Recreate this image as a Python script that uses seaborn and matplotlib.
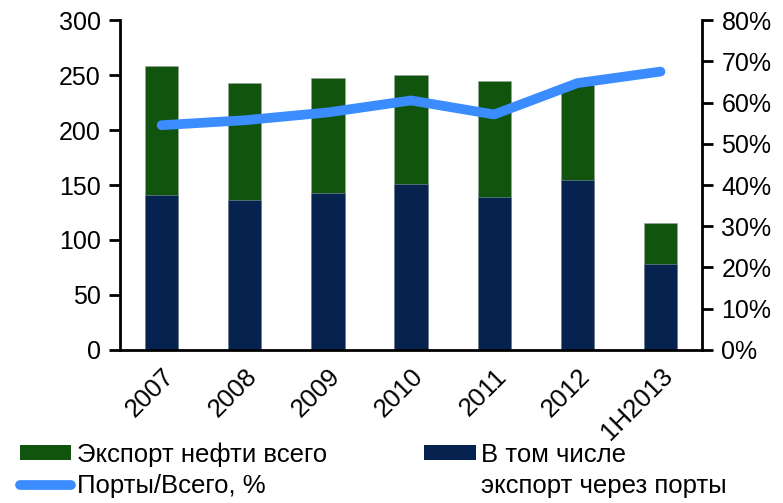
import numpy as np
import matplotlib
matplotlib.use("Agg")
import matplotlib.pyplot as plt
import seaborn as sns
from matplotlib.patches import Patch
from matplotlib.lines import Line2D
from matplotlib.ticker import FuncFormatter, MultipleLocator

# data
years = ["2007", "2008", "2009", "2010", "2011", "2012", "1H2013"]
export_total = [258, 243, 247, 250, 244.5, 241, 115.5]
export_ports = [141, 136, 143, 151, 139.5, 154.5, 78]
ports_share = [54.5, 55.7, 57.6, 60.5, 57.1, 64.7, 67.5]

green = "#11540E"
navy = "#062350"
blue = "#3A8CFF"

sns.set_style("white")
plt.rcParams["font.family"] = ["Liberation Sans", "DejaVu Sans"]
plt.rcParams["font.size"] = 18
plt.rcParams["text.color"] = "black"
plt.rcParams["xtick.color"] = "black"
plt.rcParams["ytick.color"] = "black"

fig = plt.figure(figsize=(7.83, 5.03), dpi=100)
ax = fig.add_axes([0.1533, 0.3042, 0.8966 - 0.1533, 0.9602 - 0.3042])

# total and ports bars drawn over each other (not stacked)
sns.barplot(x=years, y=export_total, color=green, saturation=1, width=0.4,
            edgecolor="#9aa59a", linewidth=0.4, ax=ax)
sns.barplot(x=years, y=export_ports, color=navy, saturation=1, width=0.4,
            edgecolor="#8a93a8", linewidth=0.4, ax=ax)

ax.set_xlim(-0.5, len(years) - 0.5)
ax.set_ylim(0, 300)
ax.yaxis.set_major_locator(MultipleLocator(50))
ax.set_xticks(np.arange(len(years)))
ax.set_xticklabels(years, rotation=45, ha="right", va="top", rotation_mode="anchor")
ax.set_xticks(np.arange(-0.5, len(years)), minor=True)
ax.tick_params(axis="x", which="major", length=0, pad=10, labelsize=18.5)
ax.tick_params(axis="x", which="minor", length=8, width=2, direction="out")
ax.tick_params(axis="y", length=8, width=2, direction="out", pad=6, labelsize=18)
for s in ["left", "bottom"]:
    ax.spines[s].set_linewidth(2)
    ax.spines[s].set_color("black")
ax.spines["top"].set_visible(False)
ax.spines["right"].set_visible(False)

ax2 = ax.twinx()
sns.lineplot(x=np.arange(len(years)), y=ports_share, color=blue, linewidth=7,
             solid_capstyle="round", solid_joinstyle="round", ax=ax2)
ax2.set_ylim(0, 80)
ax2.yaxis.set_major_locator(MultipleLocator(10))
ax2.yaxis.set_major_formatter(FuncFormatter(lambda v, p: f"{v:.0f}%"))
ax2.tick_params(axis="y", length=8, width=2, direction="out", pad=6, labelsize=18)
ax2.spines["right"].set_visible(True)
ax2.spines["right"].set_linewidth(2)
ax2.spines["right"].set_color("black")
ax2.spines["top"].set_visible(False)
ax2.spines["left"].set_visible(False)
ax2.spines["bottom"].set_visible(False)
ax2.set_ylabel("")

handles = [
    Patch(facecolor=green, edgecolor="none"),
    Line2D([0], [0], color=blue, linewidth=7, solid_capstyle="round"),
    Patch(facecolor=navy, edgecolor="none"),
    Patch(facecolor="none", edgecolor="none"),
]
labels = ["Экспорт нефти всего", "Порты/Всего, %", "В том числе", "экспорт через порты"]
fig.legend(handles, labels, ncol=2, loc="lower left", bbox_to_anchor=(-0.004, -0.037),
           frameon=False, handlelength=2.0, handleheight=0.5, handletextpad=0.2,
           columnspacing=3.8, labelspacing=0.3, fontsize=18.5)

fig.savefig("out.png", dpi=100)
